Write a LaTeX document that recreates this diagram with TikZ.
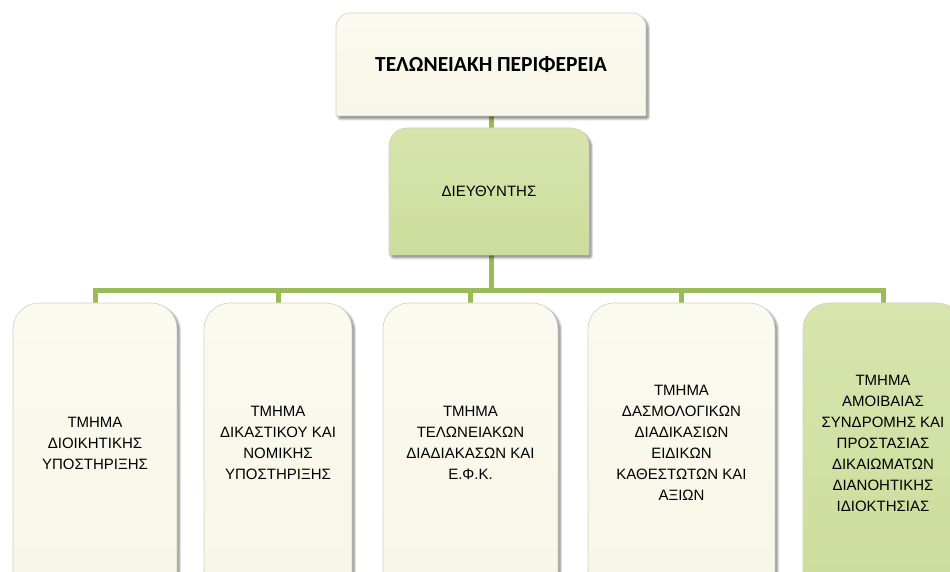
\documentclass[tikz,border=0pt]{standalone}
\usepackage{fontspec}
\setmainfont{Liberation Sans}
\newfontfamily\titlefont{Carlito}
\usetikzlibrary{shadows.blur}

\definecolor{creamtop}{HTML}{FBFAF1}
\definecolor{creambot}{HTML}{F7F6E7}
\definecolor{greentop}{HTML}{D7E5AD}
\definecolor{greenbot}{HTML}{CDDD9C}
\definecolor{linkgreen}{HTML}{9BBB59}
\definecolor{rimgrey}{HTML}{D2D0BE}

\pgfdeclarelayer{background}
\pgfsetlayers{background,main}

\tikzset{
  tabshape/.style={draw=rimgrey, line width=0.6bp,
    blur shadow={shadow xshift=2.5bp, shadow yshift=-3bp, shadow blur steps=6,
                 shadow blur extra rounding=2bp, shadow opacity=45}},
  creambox/.style={tabshape, top color=creamtop, bottom color=creambot},
  greenbox/.style={tabshape, top color=greentop, bottom color=greenbot},
  boxtext/.style={inner sep=0pt, align=center, text=black,
    font=\fontsize{15bp}{21bp}\selectfont},
  link/.style={draw=linkgreen, line width=5bp},
}

% box whose two upper corners are rounded:
% #1 name, #2 left, #3 bottom, #4 right, #5 top, #6 radius, #7 style, #8 text options, #9 text
\newcommand{\orgbox}[9]{%
  \path[#7] (#2,#3) -- (#2,{#5-#6}) arc[start angle=180,end angle=90,radius=#6]
    -- ({#4-#6},#5) arc[start angle=90,end angle=0,radius=#6] -- (#4,#3) -- cycle;
  \node[boxtext, #8, minimum width={(#4-#2)*1bp}, minimum height={(#5-#3)*1bp}]
    (#1) at ({(#2+#4)/2},{(#3+#5)/2}) {#9};
}

\begin{document}
\begin{tikzpicture}[x=1bp,y=1bp]
\useasboundingbox (0,0) rectangle (950,572);
\clip (0,0) rectangle (950,572);

\orgbox{region}{336}{456}{646}{559}{14}{creambox}{font=\titlefont\bfseries\fontsize{21.5bp}{24bp}\selectfont}{ΤΕΛΩΝΕΙΑΚΗ ΠΕΡΙΦΕΡΕΙΑ}
\orgbox{director}{389}{317}{589}{444}{18}{greenbox}{}{ΔΙΕΥΘΥΝΤΗΣ}

\orgbox{dept1}{13}{-11}{177}{269}{26}{creambox}{}{ΤΜΗΜΑ\\ΔΙΟΙΚΗΤΙΚΗΣ\\ΥΠΟΣΤΗΡΙΞΗΣ}
\orgbox{dept2}{204}{-11}{352}{269}{26}{creambox}{}{ΤΜΗΜΑ\\ΔΙΚΑΣΤΙΚΟΥ ΚΑΙ\\ΝΟΜΙΚΗΣ\\ΥΠΟΣΤΗΡΙΞΗΣ}
\orgbox{dept3}{383}{-11}{558}{269}{26}{creambox}{}{ΤΜΗΜΑ\\ΤΕΛΩΝΕΙΑΚΩΝ\\ΔΙΑΔΙΑΚΑΣΩΝ ΚΑΙ\\Ε.Φ.Κ.}
\orgbox{dept4}{588}{-11}{775}{269}{26}{creambox}{}{ΤΜΗΜΑ\\ΔΑΣΜΟΛΟΓΙΚΩΝ\\ΔΙΑΔΙΚΑΣΙΩΝ\\ΕΙΔΙΚΩΝ\\ΚΑΘΕΣΤΩΤΩΝ ΚΑΙ\\ΑΞΙΩΝ}
\orgbox{dept5}{803}{-11}{963}{269}{26}{greenbox}{}{ΤΜΗΜΑ\\ΑΜΟΙΒΑΙΑΣ\\ΣΥΝΔΡΟΜΗΣ ΚΑΙ\\ΠΡΟΣΤΑΣΙΑΣ\\ΔΙΚΑΙΩΜΑΤΩΝ\\ΔΙΑΝΟΗΤΙΚΗΣ\\ΙΔΙΟΚΤΗΣΙΑΣ}

% connectors, kept behind the boxes
\begin{pgfonlayer}{background}
  \coordinate (bus) at (491,281);
  \draw[link] (region.south) -- (region.south |- director.north);
  \draw[link] (director.south -| bus) -- (bus);
  \draw[link, line join=miter] (dept1.north) -- (dept1.north |- bus) -- (dept5.north |- bus) -- (dept5.north);
  \foreach \d in {dept2,dept3,dept4}
    \draw[link] (\d.north) -- (\d.north |- bus);
\end{pgfonlayer}
\end{tikzpicture}
\end{document}
